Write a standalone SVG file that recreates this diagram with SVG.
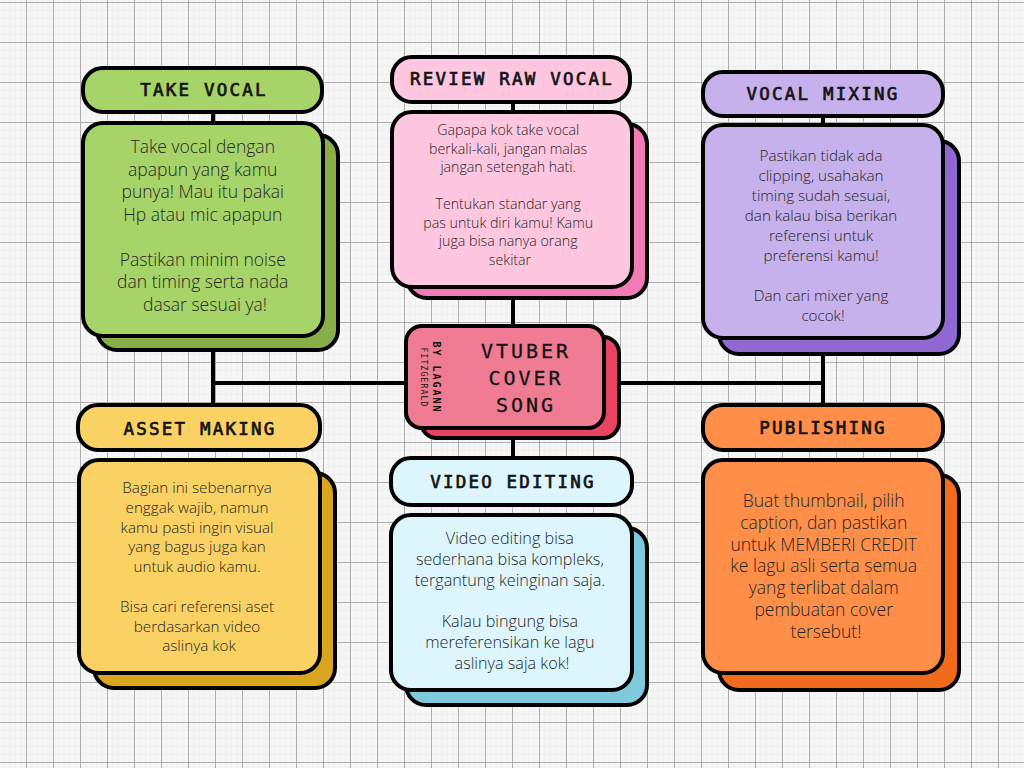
<svg xmlns="http://www.w3.org/2000/svg" width="1024" height="768" viewBox="0 0 1024 768">
<defs>
<pattern id="minor" patternUnits="userSpaceOnUse" x="-1" y="2" width="5.4" height="8">
<rect x="0" y="0" width="0.6" height="8" fill="#ebebeb"/>
<rect x="0" y="0" width="5.4" height="0.6" fill="#ebebeb"/>
</pattern>
<pattern id="major" patternUnits="userSpaceOnUse" x="-1" y="2" width="27" height="40">
<rect x="0" y="0" width="1" height="40" fill="#adadad"/>
<rect x="0" y="0" width="27" height="1" fill="#adadad"/>
</pattern>
<style>
.bd{stroke:#000;stroke-width:4}
.hd{font-family:"DejaVu Sans Mono","Liberation Mono",monospace;font-size:17.5px;letter-spacing:2.2px;fill:#141414;stroke:#141414;stroke-width:0.7;text-anchor:middle}
.tx{font-family:"Open Sans","Noto Sans",sans-serif;font-weight:300;fill:#262626;text-anchor:middle}
.cn{stroke:#000;stroke-width:4;fill:none}
.ctr{font-family:"DejaVu Sans Mono","Liberation Mono",monospace;font-size:20px;letter-spacing:3px;fill:#141414;stroke:#141414;stroke-width:0.3;text-anchor:middle}
.by{font-family:"DejaVu Sans Mono","Liberation Mono",monospace;fill:#141414;text-anchor:middle}
</style>
</defs>
<rect x="0" y="0" width="1024" height="768" fill="#f6f6f6"/>
<rect x="0" y="0" width="1024" height="768" fill="url(#minor)"/>
<rect x="0" y="0" width="1024" height="768" fill="url(#major)"/>

<g id="connectors">
<path class="cn" d="M213 112V405M513 102V458M823 115V405M213 383H823"/>
</g>

<g id="take-vocal">
<rect class="bd" x="97" y="135" width="241" height="215" rx="20" fill="#88ae47"/>
<rect class="bd" x="83" y="123" width="240" height="213" rx="20" fill="#a6d469"/>
<rect class="bd" x="83" y="68" width="239" height="44" rx="20" fill="#a6d469"/>
<text class="hd" x="204" y="96">TAKE VOCAL</text>
<text class="tx" font-size="17.5">
<tspan x="205" y="153">Take vocal dengan</tspan>
<tspan x="205" y="175.5">apapun yang kamu</tspan>
<tspan x="205" y="198">punya! Mau itu pakai</tspan>
<tspan x="205" y="220.5">Hp atau mic apapun</tspan>
<tspan x="205" y="265.5">Pastikan minim noise</tspan>
<tspan x="205" y="288">dan timing serta nada</tspan>
<tspan x="205" y="310.5">dasar sesuai ya!</tspan>
</text>
</g>

<g id="review-raw-vocal">
<rect class="bd" x="407" y="124" width="240" height="174" rx="20" fill="#f27ab5"/>
<rect class="bd" x="392" y="112" width="240" height="175" rx="20" fill="#fec7df"/>
<rect class="bd" x="392" y="57" width="238" height="45" rx="20" fill="#fec7df"/>
<text class="hd" x="512" y="85">REVIEW RAW VOCAL</text>
<text class="tx" font-size="14.2">
<tspan x="510" y="135">Gapapa kok take vocal</tspan>
<tspan x="510" y="153.5">berkali-kali, jangan malas</tspan>
<tspan x="510" y="172">jangan setengah hati.</tspan>
<tspan x="510" y="209">Tentukan standar yang</tspan>
<tspan x="510" y="227.5">pas untuk diri kamu! Kamu</tspan>
<tspan x="510" y="246">juga bisa nanya orang</tspan>
<tspan x="510" y="264.5">sekitar</tspan>
</text>
</g>

<g id="vocal-mixing">
<rect class="bd" x="719" y="141" width="240" height="213" rx="20" fill="#9068d4"/>
<rect class="bd" x="703" y="125" width="240" height="213" rx="20" fill="#c6b1ec"/>
<rect class="bd" x="703" y="72" width="240" height="44" rx="20" fill="#c6b1ec"/>
<text class="hd" x="823" y="100">VOCAL MIXING</text>
<text class="tx" font-size="15.2">
<tspan x="823" y="161">Pastikan tidak ada</tspan>
<tspan x="823" y="181">clipping, usahakan</tspan>
<tspan x="823" y="201">timing sudah sesuai,</tspan>
<tspan x="823" y="221">dan kalau bisa berikan</tspan>
<tspan x="823" y="241">referensi untuk</tspan>
<tspan x="823" y="261">preferensi kamu!</tspan>
<tspan x="823" y="301">Dan cari mixer yang</tspan>
<tspan x="823" y="321">cocok!</tspan>
</text>
</g>

<g id="vtuber-cover-song">
<rect class="bd" x="421" y="337" width="198" height="101" rx="16" fill="#e84462"/>
<rect class="bd" x="406" y="326" width="198" height="102" rx="16" fill="#ef7c92"/>
<text class="ctr"><tspan x="526" y="358">VTUBER</tspan><tspan x="526" y="385">COVER</tspan><tspan x="526" y="412">SONG</tspan></text>
<text class="by" font-size="10" font-weight="bold" letter-spacing="2" transform="translate(433,377.5) rotate(90)">BY LAGANN</text>
<text class="by" font-size="8" letter-spacing="1.2" transform="translate(421,377.5) rotate(90)">FITZGERALD</text>
</g>

<g id="asset-making">
<rect class="bd" x="94" y="473" width="241" height="215" rx="20" fill="#d9a51f"/>
<rect class="bd" x="79" y="460" width="241" height="213" rx="20" fill="#fad264"/>
<rect class="bd" x="78" y="405" width="242" height="45" rx="20" fill="#fad264"/>
<text class="hd" x="200" y="435">ASSET MAKING</text>
<text class="tx" font-size="15.2">
<tspan x="199" y="493">Bagian ini sebenarnya</tspan>
<tspan x="199" y="512.8">enggak wajib, namun</tspan>
<tspan x="199" y="532.6">kamu pasti ingin visual</tspan>
<tspan x="199" y="552.4">yang bagus juga kan</tspan>
<tspan x="199" y="572.2">untuk audio kamu.</tspan>
<tspan x="199" y="611.8">Bisa cari referensi aset</tspan>
<tspan x="199" y="631.6">berdasarkan video</tspan>
<tspan x="199" y="651.4">aslinya kok</tspan>
</text>
</g>

<g id="video-editing">
<rect class="bd" x="406" y="528" width="241" height="177" rx="20" fill="#7ec9dc"/>
<rect class="bd" x="391" y="515" width="241" height="175" rx="20" fill="#ddf6fd"/>
<rect class="bd" x="391" y="458" width="241" height="47" rx="20" fill="#ddf6fd"/>
<text class="hd" x="513" y="488">VIDEO EDITING</text>
<text class="tx" font-size="16.2">
<tspan x="512" y="544">Video editing bisa</tspan>
<tspan x="512" y="565">sederhana bisa kompleks,</tspan>
<tspan x="512" y="586">tergantung keinginan saja.</tspan>
<tspan x="512" y="627">Kalau bingung bisa</tspan>
<tspan x="512" y="648">mereferensikan ke lagu</tspan>
<tspan x="512" y="669">aslinya saja kok!</tspan>
</text>
</g>

<g id="publishing">
<rect class="bd" x="719" y="475" width="240" height="215" rx="20" fill="#f26b1d"/>
<rect class="bd" x="703" y="460" width="240" height="213" rx="20" fill="#ff8e49"/>
<rect class="bd" x="703" y="405" width="240" height="45" rx="20" fill="#ff8e49"/>
<text class="hd" x="823" y="434">PUBLISHING</text>
<text class="tx" font-size="17.5">
<tspan x="826" y="507">Buat thumbnail, pilih</tspan>
<tspan x="826" y="528.8">caption, dan pastikan</tspan>
<tspan x="826" y="550.6">untuk MEMBERI CREDIT</tspan>
<tspan x="826" y="572.4">ke lagu asli serta semua</tspan>
<tspan x="826" y="594.2">yang terlibat dalam</tspan>
<tspan x="826" y="616">pembuatan cover</tspan>
<tspan x="826" y="637.8">tersebut!</tspan>
</text>
</g>
</svg>
